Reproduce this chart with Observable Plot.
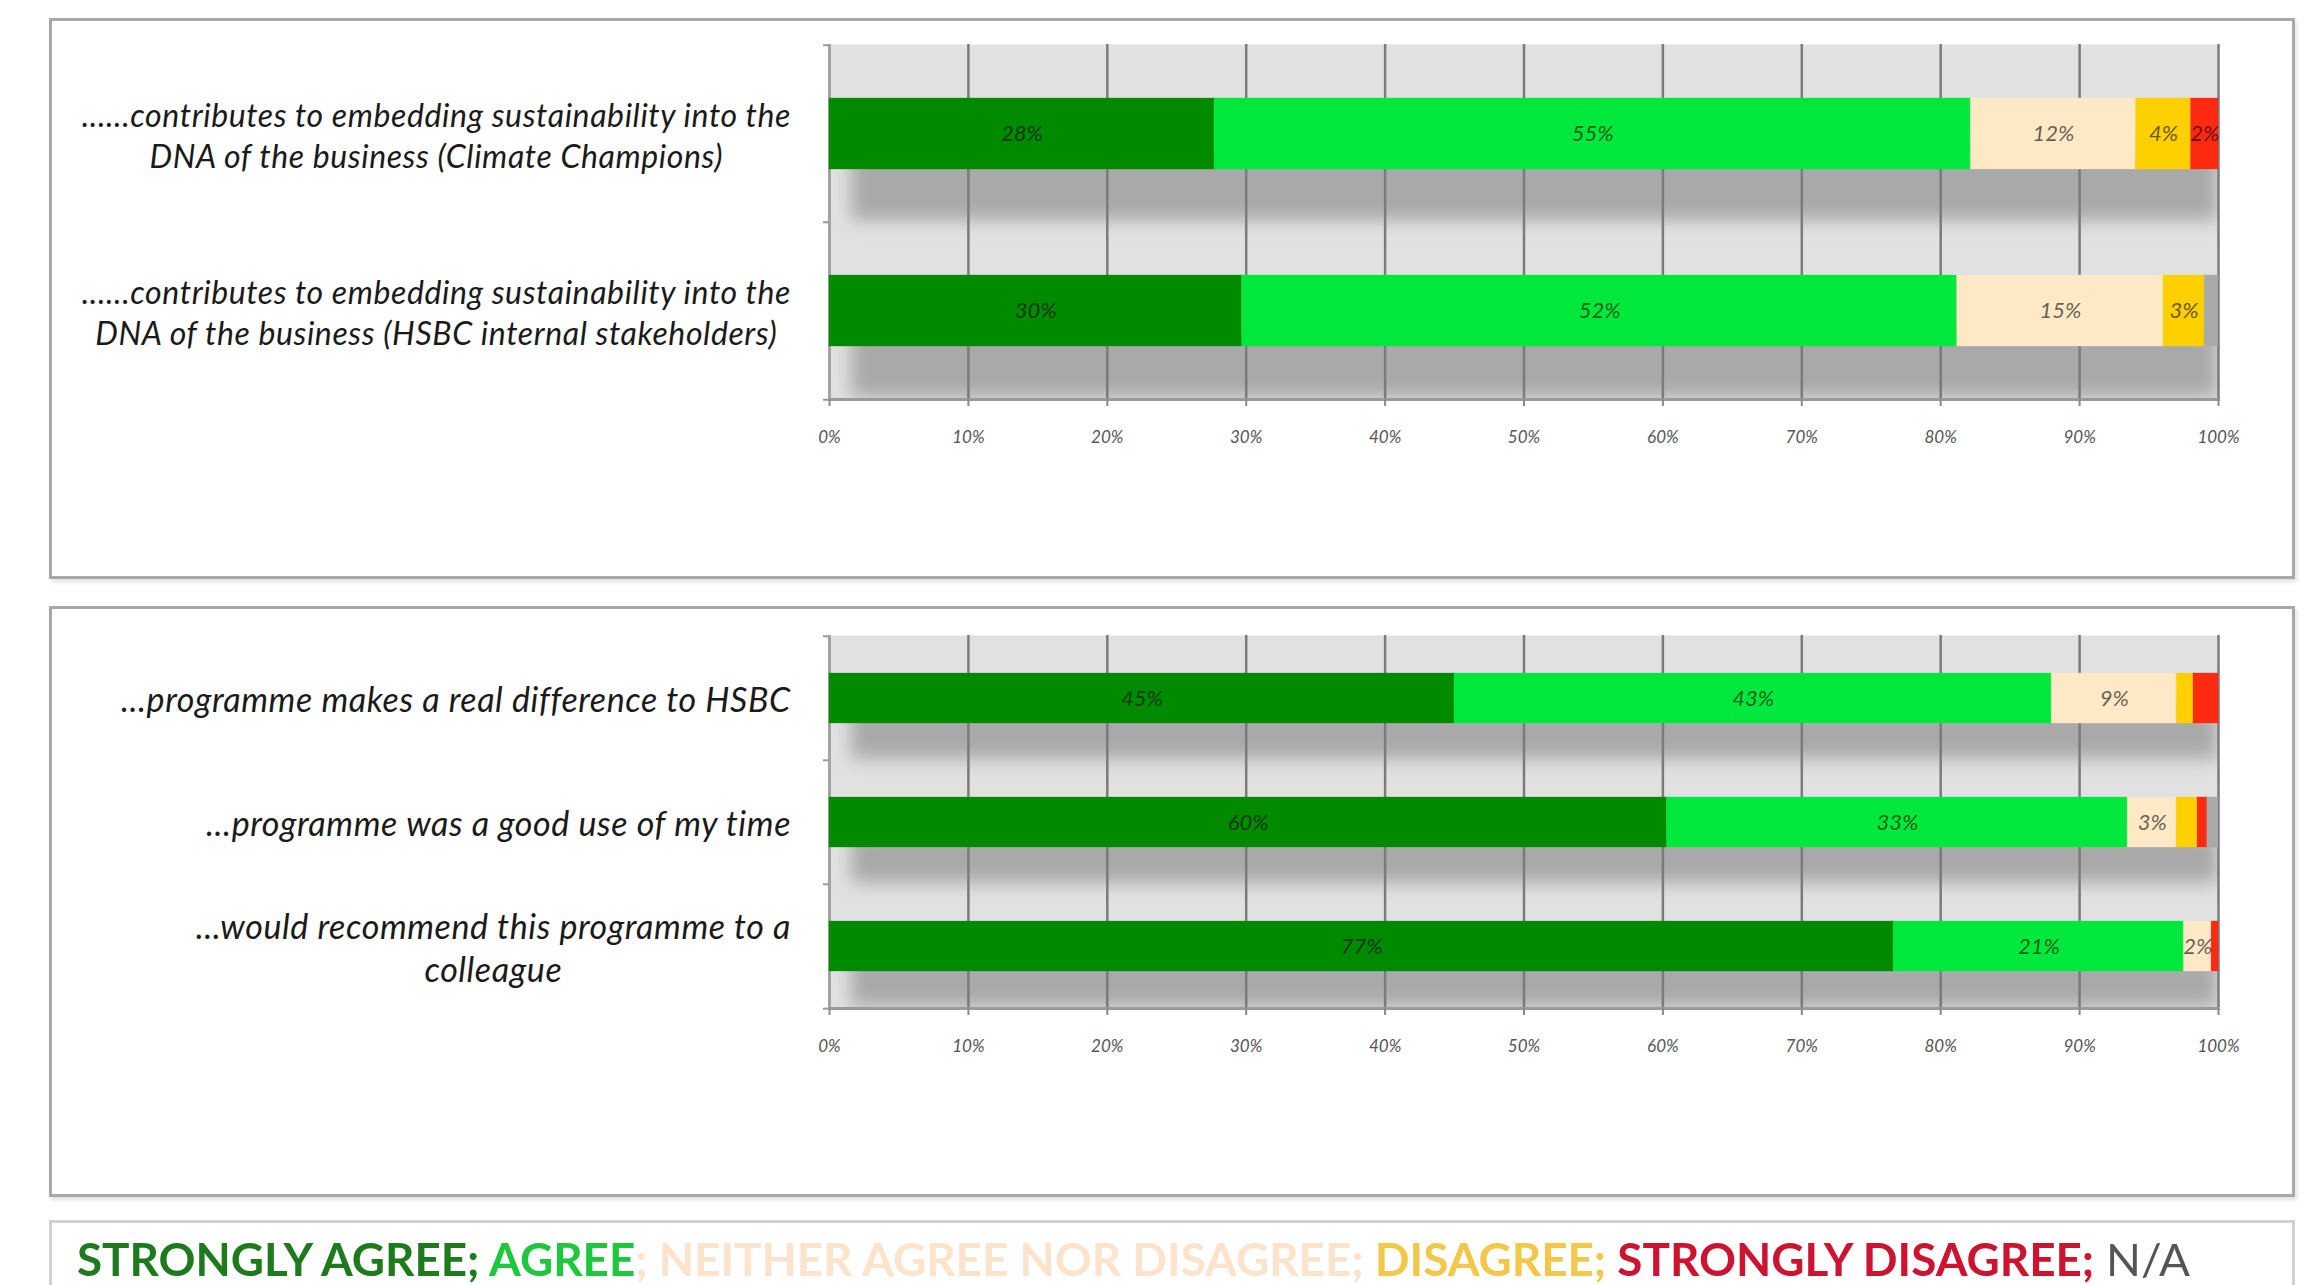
<!DOCTYPE html>
<html><head><meta charset="utf-8">
<script src="https://cdn.jsdelivr.net/npm/d3@7"></script>
<script src="https://cdn.jsdelivr.net/npm/@observablehq/plot@0.6"></script>
<style>
html,body{margin:0;padding:0;background:#fff}
body{width:2317px;height:1285px;overflow:hidden;position:relative;font-family:Lato,"Open Sans",sans-serif}
.panel{position:absolute;left:49px;width:2240px;border:3px solid #a8a8a8;background:#fff;box-shadow:2px 3px 4px #e2e2e2}
#p1{top:18px;height:555px}
#p2{top:606px;height:585px}
#legend{position:absolute;left:49px;top:1220px;width:2240px;height:80px;border:3px solid #d0d0d0;border-bottom:none;background:#fff}
#legendText{position:absolute;left:25px;top:9px;white-space:nowrap;font-size:45px;font-weight:700;transform-origin:0 0;letter-spacing:0}
svg{display:block}
</style></head>
<body>
<div class="panel" id="p1"></div>
<div class="panel" id="p2"></div>
<div id="legend"><div id="legendText"></div></div>
<script>
// ---- data ----
const seriesKeys = ["Strongly agree", "Agree", "Neither agree nor disagree", "Disagree", "Strongly disagree", "N/A"];
const seriesColors = ["#008a00", "#00e83c", "#fde9c6", "#ffd000", "#ff2a12", "#a9a9a9"];

const categories1 = [
  "......contributes to embedding sustainability into the\nDNA of the business (Climate Champions)",
  "......contributes to embedding sustainability into the\nDNA of the business (HSBC internal stakeholders)"
];
const values1 = [
  [28, 55, 12, 4, 2, 0],
  [30, 52, 15, 3, 0, 1]
];
const labels1 = [
  ["28%", "55%", "12%", "4%", "2%", ""],
  ["30%", "52%", "15%", "3%", "", ""]
];

const categories2 = [
  "...programme makes a real difference to HSBC",
  "...programme was a good use of my time",
  "...would recommend this programme to a\ncolleague"
];
const values2 = [
  [45, 43, 9, 1.2, 1.8, 0],
  [60, 33, 3.5, 1.5, 0.7, 0.8],
  [77, 21, 2, 0, 0.5, 0]
];
const labels2 = [
  ["45%", "43%", "9%", "", "", ""],
  ["60%", "33%", "3%", "", "", ""],
  ["77%", "21%", "2%", "", "", ""]
];

const tickValues = [0, 10, 20, 30, 40, 50, 60, 70, 80, 90, 100];
const tickLabels = ["0%", "10%", "20%", "30%", "40%", "50%", "60%", "70%", "80%", "90%", "100%"];

const legendLabels = ["STRONGLY AGREE;", " AGREE", "; NEITHER AGREE NOR DISAGREE;", " DISAGREE;", " STRONGLY DISAGREE;", " N/A"];
const legendColors = ["#1d7a1d", "#1ec83c", "#fce3cb", "#f2c84a", "#cc1330", "#555555"];

const SHADOW = "#a9a9a9";

// ---- chart builder ----
function chart(container, categories, values, labels, dims) {
  const {width, height, marginTop, marginBottom, marginLeft, marginRight, labelRight, fontSize, lineHeight} = dims;
  const data = [];
  categories.forEach((c, i) => seriesKeys.forEach((s, j) =>
    data.push({cat: c, series: s, value: values[i][j], label: labels[i][j]})));
  const step = (height - marginTop - marginBottom) / categories.length;
  const bw = step * 0.4;
  const ticks = tickValues.map(v => v / 100);
  const fmt = d => tickLabels[tickValues.indexOf(Math.round(d * 100))];

  const svg = Plot.plot({
    width, height, marginTop, marginBottom, marginLeft, marginRight,
    style: {background: "transparent", overflow: "visible", fontFamily: "Lato, sans-serif"},
    x: {domain: [0, 1], axis: null, label: null},
    y: {domain: categories, paddingInner: 0.6, paddingOuter: 0.3, axis: null, label: null},
    color: {domain: seriesKeys, range: seriesColors},
    marks: [
      Plot.frame({fill: "#e1e1e1", stroke: null}),
      Plot.barX(categories, {y: d => d, x1: 0, x2: 1, dy: bw * 0.72, fill: SHADOW, insetLeft: 22}),
      Plot.ruleX(ticks.slice(1), {stroke: "#7b7b7b", strokeWidth: 2.5}),
      Plot.ruleX([0], {stroke: "#a4a4a4", strokeWidth: 3}),
      Plot.frame({anchor: "bottom", stroke: "#9a9a9a", strokeWidth: 3}),
      Plot.axisX(ticks, {label: null, tickFormat: fmt, tickSize: 7, tickPadding: 24, stroke: "#8a8a8a", strokeWidth: 2, fill: "#555", fontSize: 17, fontStyle: "italic"}),
      Plot.axisY(categories, {label: null, tickFormat: () => "", tickSize: 6, dy: -step / 2, stroke: "#9a9a9a", strokeWidth: 2}),
      Plot.axisY([categories[categories.length - 1]], {label: null, tickFormat: () => "", tickSize: 6, dy: step / 2, stroke: "#9a9a9a", strokeWidth: 2}),
      Plot.barX(data, Plot.stackX({y: "cat", x: "value", fill: "series", order: seriesKeys, offset: "normalize", stroke: "series", strokeOpacity: 0.15, strokeWidth: 2})),
      Plot.text(data, Plot.stackX({y: "cat", x: "value", z: "series", order: seriesKeys, offset: "normalize", text: "label",
        fontStyle: "italic", fontSize: 22, fill: "#000", fillOpacity: 0.6})),
      Plot.text(categories, {y: d => d, frameAnchor: "left", text: d => d, textAnchor: "middle", lineHeight,
        fontStyle: "italic", fontSize, fill: "#1a1a1a"})
    ]
  });
  container.appendChild(svg);

  // defs: blur for shadows + clip to plot area
  const s = d3.select(svg);
  const id = container.id;
  const defs = s.insert("defs", ":first-child");
  defs.append("filter").attr("id", id + "blur").attr("x", "-5%").attr("y", "-60%").attr("width", "110%").attr("height", "220%")
    .append("feGaussianBlur").attr("stdDeviation", 9);
  defs.append("clipPath").attr("id", id + "clip").append("rect")
    .attr("x", marginLeft).attr("y", marginTop)
    .attr("width", width - marginLeft - marginRight).attr("height", height - marginTop - marginBottom);
  s.selectAll("g").filter(function () { return this.getAttribute("fill") === SHADOW; }).each(function () {
    const g = this;
    g.setAttribute("filter", `url(#${id}blur)`);
    const wrap = document.createElementNS("http://www.w3.org/2000/svg", "g");
    wrap.setAttribute("clip-path", `url(#${id}clip)`);
    g.parentNode.insertBefore(wrap, g);
    wrap.appendChild(g);
  });

  // right-align category label blocks (lines centred within block)
  const svgLeft = svg.getBoundingClientRect().left;
  const labelGroups = s.selectAll("g").filter(function () { return this.getAttribute("font-size") == String(fontSize); });
  labelGroups.attr("letter-spacing", 0.6);
  labelGroups.selectAll("text").each(function () {
    const right = this.getBoundingClientRect().right - svgLeft;
    const shift = labelRight - right;
    const t = this.getAttribute("transform") || "";
    this.setAttribute("transform", `translate(${shift},0) ` + t);
  });
}

chart(document.getElementById("p1"), categories1, values1, labels1,
  {width: 2240, height: 555, marginTop: 23, marginBottom: 177, marginLeft: 777, marginRight: 74, labelRight: 739, fontSize: 32, lineHeight: 1.28});
chart(document.getElementById("p2"), categories2, values2, labels2,
  {width: 2240, height: 585, marginTop: 26, marginBottom: 186, marginLeft: 777, marginRight: 74, labelRight: 739, fontSize: 34, lineHeight: 1.27});

// legend
const lt = document.getElementById("legendText");
legendLabels.forEach((l, i) => {
  const sp = document.createElement("span");
  sp.textContent = l;
  sp.style.color = legendColors[i];
  if (i === legendLabels.length - 1) sp.style.fontWeight = "400";
  lt.appendChild(sp);
});
const w = lt.getBoundingClientRect().width;
lt.style.transform = `scaleX(${2113 / w})`;
</script>
</body></html>
